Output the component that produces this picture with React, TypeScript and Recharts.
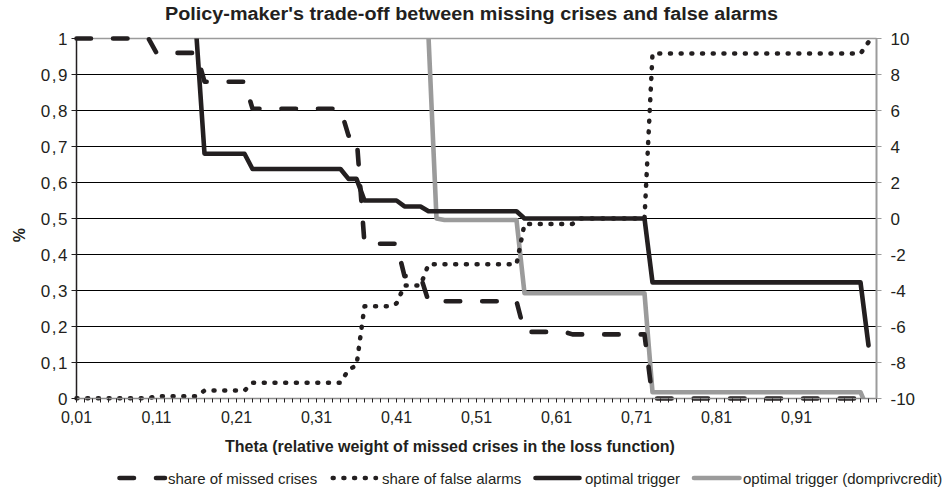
import React from 'react';
import { LineChart, Line, XAxis, YAxis, CartesianGrid, ReferenceLine, Legend } from 'recharts';

// theta categories (0.01 step); the last one carries no data
const thetas = [
  0.01, 0.02, 0.03, 0.04, 0.05, 0.06, 0.07, 0.08, 0.09, 0.1,
  0.11, 0.12, 0.13, 0.14, 0.15, 0.16, 0.17, 0.18, 0.19, 0.2,
  0.21, 0.22, 0.23, 0.24, 0.25, 0.26, 0.27, 0.28, 0.29, 0.3,
  0.31, 0.32, 0.33, 0.34, 0.35, 0.36, 0.37, 0.38, 0.39, 0.4,
  0.41, 0.42, 0.43, 0.44, 0.45, 0.46, 0.47, 0.48, 0.49, 0.5,
  0.51, 0.52, 0.53, 0.54, 0.55, 0.56, 0.57, 0.58, 0.59, 0.6,
  0.61, 0.62, 0.63, 0.64, 0.65, 0.66, 0.67, 0.68, 0.69, 0.7,
  0.71, 0.72, 0.73, 0.74, 0.75, 0.76, 0.77, 0.78, 0.79, 0.8,
  0.81, 0.82, 0.83, 0.84, 0.85, 0.86, 0.87, 0.88, 0.89, 0.9,
  0.91, 0.92, 0.93, 0.94, 0.95, 0.96, 0.97, 0.98, 0.99, 1.0,
  1.01,
];

// left axis (share)
const missedCrises = [
  1, 1, 1, 1, 1, 1, 1, 1, 1, 1,
  0.96, 0.96, 0.96, 0.96, 0.96, 0.96, 0.88, 0.88, 0.88, 0.88,
  0.88, 0.88, 0.805, 0.805, 0.805, 0.805, 0.805, 0.805, 0.805, 0.805,
  0.805, 0.805, 0.805, 0.805, 0.73, 0.73, 0.43, 0.43, 0.43, 0.43,
  0.43, 0.34, 0.34, 0.34, 0.27, 0.27, 0.27, 0.27, 0.27, 0.27,
  0.27, 0.27, 0.27, 0.27, 0.27, 0.27, 0.185, 0.185, 0.185, 0.185,
  0.185, 0.185, 0.178, 0.178, 0.178, 0.178, 0.178, 0.178, 0.178, 0.178,
  0.178, 0.178, 0, 0, 0, 0, 0, 0, 0, 0,
  0, 0, 0, 0, 0, 0, 0, 0, 0, 0,
  0, 0, 0, 0, 0, 0, 0, 0, 0, 0,
];

const falseAlarms = [
  0.001, 0.001, 0.001, 0.001, 0.001, 0.001, 0.001, 0.001, 0.001, 0.001,
  0.006, 0.006, 0.006, 0.006, 0.006, 0.006, 0.022, 0.022, 0.022, 0.022,
  0.022, 0.022, 0.044, 0.044, 0.044, 0.044, 0.044, 0.044, 0.044, 0.044,
  0.044, 0.044, 0.044, 0.044, 0.08, 0.092, 0.256, 0.256, 0.256, 0.256,
  0.264, 0.314, 0.314, 0.314, 0.373, 0.373, 0.373, 0.373, 0.373, 0.373,
  0.373, 0.373, 0.373, 0.373, 0.373, 0.373, 0.485, 0.485, 0.485, 0.485,
  0.485, 0.485, 0.485, 0.5, 0.5, 0.5, 0.5, 0.5, 0.5, 0.5,
  0.5, 0.5, 0.958, 0.958, 0.958, 0.958, 0.958, 0.958, 0.958, 0.958,
  0.958, 0.958, 0.958, 0.958, 0.958, 0.958, 0.958, 0.958, 0.958, 0.958,
  0.958, 0.958, 0.958, 0.958, 0.958, 0.958, 0.958, 0.958, 0.958, 0.99,
];

// right axis (trigger); null = above the top of the axis
const optimalTrigger = [
  null, null, null, null, null, null, null, null, null, null,
  null, null, null, null, null, 10.1, 3.6, 3.6, 3.6, 3.6,
  3.6, 3.6, 2.75, 2.75, 2.75, 2.75, 2.75, 2.75, 2.75, 2.75,
  2.75, 2.75, 2.75, 2.75, 2.2, 2.2, 1.0, 1.0, 1.0, 1.0,
  1.0, 0.67, 0.67, 0.67, 0.4, 0.4, 0.4, 0.4, 0.4, 0.4,
  0.4, 0.4, 0.4, 0.4, 0.4, 0.4, 0, 0, 0, 0,
  0, 0, 0, 0, 0, 0, 0, 0, 0, 0,
  0, 0, -3.55, -3.55, -3.55, -3.55, -3.55, -3.55, -3.55, -3.55,
  -3.55, -3.55, -3.55, -3.55, -3.55, -3.55, -3.55, -3.55, -3.55, -3.55,
  -3.55, -3.55, -3.55, -3.55, -3.55, -3.55, -3.55, -3.55, -3.55, -7.05,
];

const domprivTrigger = [
  null, null, null, null, null, null, null, null, null, null,
  null, null, null, null, null, null, null, null, null, null,
  null, null, null, null, null, null, null, null, null, null,
  null, null, null, null, null, null, null, null, null, null,
  null, null, null, null, 10.1, 0, -0.08, -0.08, -0.08, -0.08,
  -0.08, -0.08, -0.08, -0.08, -0.08, -0.08, -4.15, -4.15, -4.15, -4.15,
  -4.15, -4.15, -4.15, -4.15, -4.15, -4.15, -4.15, -4.15, -4.15, -4.15,
  -4.15, -4.15, -9.65, -9.65, -9.65, -9.65, -9.65, -9.65, -9.65, -9.65,
  -9.65, -9.65, -9.65, -9.65, -9.65, -9.65, -9.65, -9.65, -9.65, -9.65,
  -9.65, -9.65, -9.65, -9.65, -9.65, -9.65, -9.65, -9.65, -9.65, -10.7,
];

const leftTicks = [0, 0.1, 0.2, 0.3, 0.4, 0.5, 0.6, 0.7, 0.8, 0.9, 1];
const rightTicks = [-10, -8, -6, -4, -2, 0, 2, 4, 6, 8, 10];

const seriesNames = [
  'share of missed crises',
  'share of false alarms',
  'optimal trigger',
  'optimal trigger (domprivcredit)',
];

const BLACK = '#231f20';
const GREY = '#9b9b9b';
const FONT = '"Liberation Sans", Arial, sans-serif';

const missedStyle = { stroke: BLACK, strokeWidth: 4.6, strokeDasharray: '14.5 22', strokeLinecap: 'round' as const };
const falseStyle = { stroke: BLACK, strokeWidth: 4.5, strokeDasharray: '1 9.7', strokeLinecap: 'round' as const };
const triggerStyle = { stroke: BLACK, strokeWidth: 4.6, strokeLinecap: 'round' as const };
const domprivStyle = { stroke: GREY, strokeWidth: 4.6, strokeLinecap: 'round' as const };

const data = thetas.map((t, i) => ({
  theta: t,
  missed: missedCrises[i] ?? null,
  falseAlarms: falseAlarms[i] ?? null,
  trigger: optimalTrigger[i] ?? null,
  domprivcredit: domprivTrigger[i] ?? null,
}));

const comma = (v: number) => String(v).replace('.', ',');

const ThetaTick = (props: any) => {
  const { x, y, payload, index } = props;
  if (index % 10 !== 0 || index >= 100) return null;
  return (
    <text x={x} y={y} dy="0.71em" textAnchor="middle" fontSize={16} fontFamily={FONT} fill={BLACK}>
      {Number(payload.value).toFixed(2).replace('.', ',')}
    </text>
  );
};

const renderLegend = () => (
  <svg width={950} height={24}>
    <g fontFamily={FONT} fontSize={15} fill={BLACK}>
      <line x1={119.5} x2={165} y1={12} y2={12} {...missedStyle} />
      <text x={168} y={12} dominantBaseline="central">{seriesNames[0]}</text>
      <line x1={332.7} x2={376} y1={12} y2={12} {...falseStyle} />
      <text x={382} y={12} dominantBaseline="central">{seriesNames[1]}</text>
      <line x1={535.5} x2={579.5} y1={12} y2={12} {...triggerStyle} />
      <text x={585} y={12} dominantBaseline="central">{seriesNames[2]}</text>
      <line x1={694} x2={739.5} y1={12} y2={12} {...domprivStyle} />
      <text x={743} y={12} dominantBaseline="central">{seriesNames[3]}</text>
    </g>
  </svg>
);

export default function App() {
  return (
    <div style={{ width: 950, height: 491, background: '#fff' }}>
      <style>{'body{margin:0;}'}</style>
      <LineChart width={950} height={491} data={data} margin={{ top: 38.5, right: 0, bottom: 0, left: 0 }}>
        <CartesianGrid yAxisId="left" vertical={false} stroke="#000" strokeWidth={1} />
        <XAxis
          dataKey="theta"
          height={92.5}
          interval={0}
          tick={<ThetaTick />}
          tickSize={4}
          tickMargin={9}
          axisLine={{ stroke: '#8a8a8a', strokeWidth: 1.5 }}
          tickLine={{ stroke: BLACK }}
        />
        <YAxis
          yAxisId="left"
          width={76.5}
          domain={[0, 1]}
          ticks={leftTicks}
          tickFormatter={comma}
          tickSize={5}
          tickMargin={2.5}
          axisLine={{ stroke: BLACK, strokeWidth: 1.5 }}
          tickLine={{ stroke: BLACK }}
          tick={{ fontSize: 17, fontFamily: FONT, fill: BLACK, letterSpacing: 1.5 }}
        />
        <YAxis
          yAxisId="right"
          orientation="right"
          width={73.5}
          domain={[-10, 10]}
          allowDataOverflow
          ticks={rightTicks}
          tickSize={5}
          tickMargin={9}
          axisLine={{ stroke: GREY, strokeWidth: 2 }}
          tickLine={{ stroke: GREY }}
          tick={{ fontSize: 17, fontFamily: FONT, fill: BLACK }}
        />
        <ReferenceLine yAxisId="left" y={1} stroke={GREY} strokeWidth={1.5} />
        <Line yAxisId="right" dataKey="domprivcredit" name={seriesNames[3]} type="linear" dot={false} activeDot={false}
          isAnimationActive={false} strokeLinejoin="round" {...domprivStyle} />
        <Line yAxisId="right" dataKey="trigger" name={seriesNames[2]} type="linear" dot={false} activeDot={false}
          isAnimationActive={false} strokeLinejoin="round" {...triggerStyle} />
        <Line yAxisId="left" dataKey="missed" name={seriesNames[0]} type="linear" dot={false} activeDot={false}
          isAnimationActive={false} strokeLinejoin="round" {...missedStyle} />
        <Line yAxisId="left" dataKey="falseAlarms" name={seriesNames[1]} type="linear" dot={false} activeDot={false}
          isAnimationActive={false} strokeLinejoin="round" {...falseStyle} />
        <Legend
          verticalAlign="middle"
          align="center"
          layout="horizontal"
          wrapperStyle={{ top: 466, left: 0, width: 950, height: 24 }}
          content={renderLegend}
        />
        <text x={471.5} y={20} textAnchor="middle" fontSize={18} fontWeight="bold" fontFamily={FONT} fill={BLACK}
          textLength={613} lengthAdjust="spacingAndGlyphs">
          Policy-maker's trade-off between missing crises and false alarms
        </text>
        <text x={450} y={451.5} textAnchor="middle" fontSize={16} fontWeight="bold" fontFamily={FONT} fill={BLACK}>
          Theta (relative weight of missed crises in the loss function)
        </text>
        <text x={25} y={235} transform="rotate(-90 25 235)" textAnchor="middle" fontSize={16} fontWeight="bold"
          fontFamily={FONT} fill={BLACK}>
          %
        </text>
      </LineChart>
    </div>
  );
}
